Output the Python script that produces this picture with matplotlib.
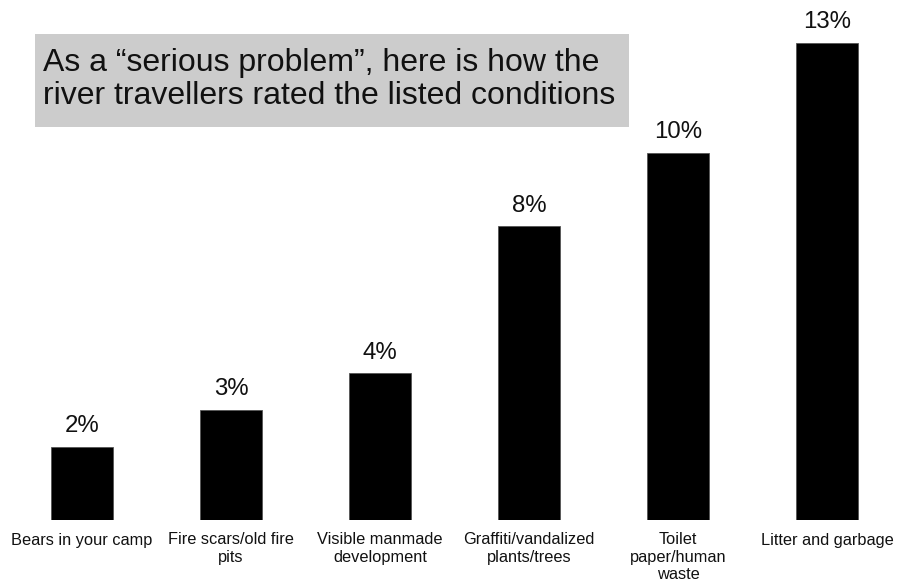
import matplotlib
matplotlib.use("Agg")
import matplotlib.pyplot as plt
from matplotlib.patches import Rectangle

categories = [
    "Bears in your camp",
    "Fire scars/old fire\npits",
    "Visible manmade\ndevelopment",
    "Graffiti/vandalized\nplants/trees",
    "Toilet\npaper/human\nwaste",
    "Litter and garbage",
]
values = [2, 3, 4, 8, 10, 13]
value_labels = ["2%", "3%", "4%", "8%", "10%", "13%"]
title_text = "As a \u201cserious problem\u201d, here is how the\nriver travellers rated the listed conditions"

plt.rcParams["font.family"] = ["Liberation Sans", "DejaVu Sans"]

W, H = 908, 582
fig = plt.figure(figsize=(W / 100, H / 100), dpi=100)
fig.patch.set_facecolor("white")

# axes placed in pixel terms: baseline 520 px from top
ax_left, ax_right = 7.5, 901.5
ax_bottom = H - 520
ax_top_px = 520 - 477 * 14 / 13
ax = fig.add_axes([ax_left / W, ax_bottom / H, (ax_right - ax_left) / W,
                   (520 - ax_top_px) / H])

x = list(range(len(categories)))
ax.bar(x, values, width=0.416, color="black", edgecolor="#555555", linewidth=0.6)
ax.set_xlim(-0.5, len(categories) - 0.5)
ax.set_ylim(0, 14)

for xi, v, lab in zip(x, values, value_labels):
    ax.annotate(lab, (xi, v), xytext=(0, 7), textcoords="offset points",
                ha="center", va="bottom", fontsize=17.3, color="#111111")

ax.set_xticks(x)
ax.set_xticklabels(categories, fontsize=11.8, color="#111111", linespacing=1.2)
ax.tick_params(axis="x", length=0, pad=9)
ax.set_yticks([])
for s in ax.spines.values():
    s.set_visible(False)

# shaded caption box
bx0, bx1, by0, by1 = 35, 629, 34, 127
fig.patches.append(Rectangle((bx0 / W, 1 - by1 / H), (bx1 - bx0) / W, (by1 - by0) / H,
                             transform=fig.transFigure, facecolor="#cccccc",
                             edgecolor="none", zorder=0))
fig.text(43 / W, 1 - 79.5 / H, title_text, ha="left", va="center",
         fontsize=23, color="#111111", linespacing=1.15)

fig.savefig("out.png", dpi=100)
